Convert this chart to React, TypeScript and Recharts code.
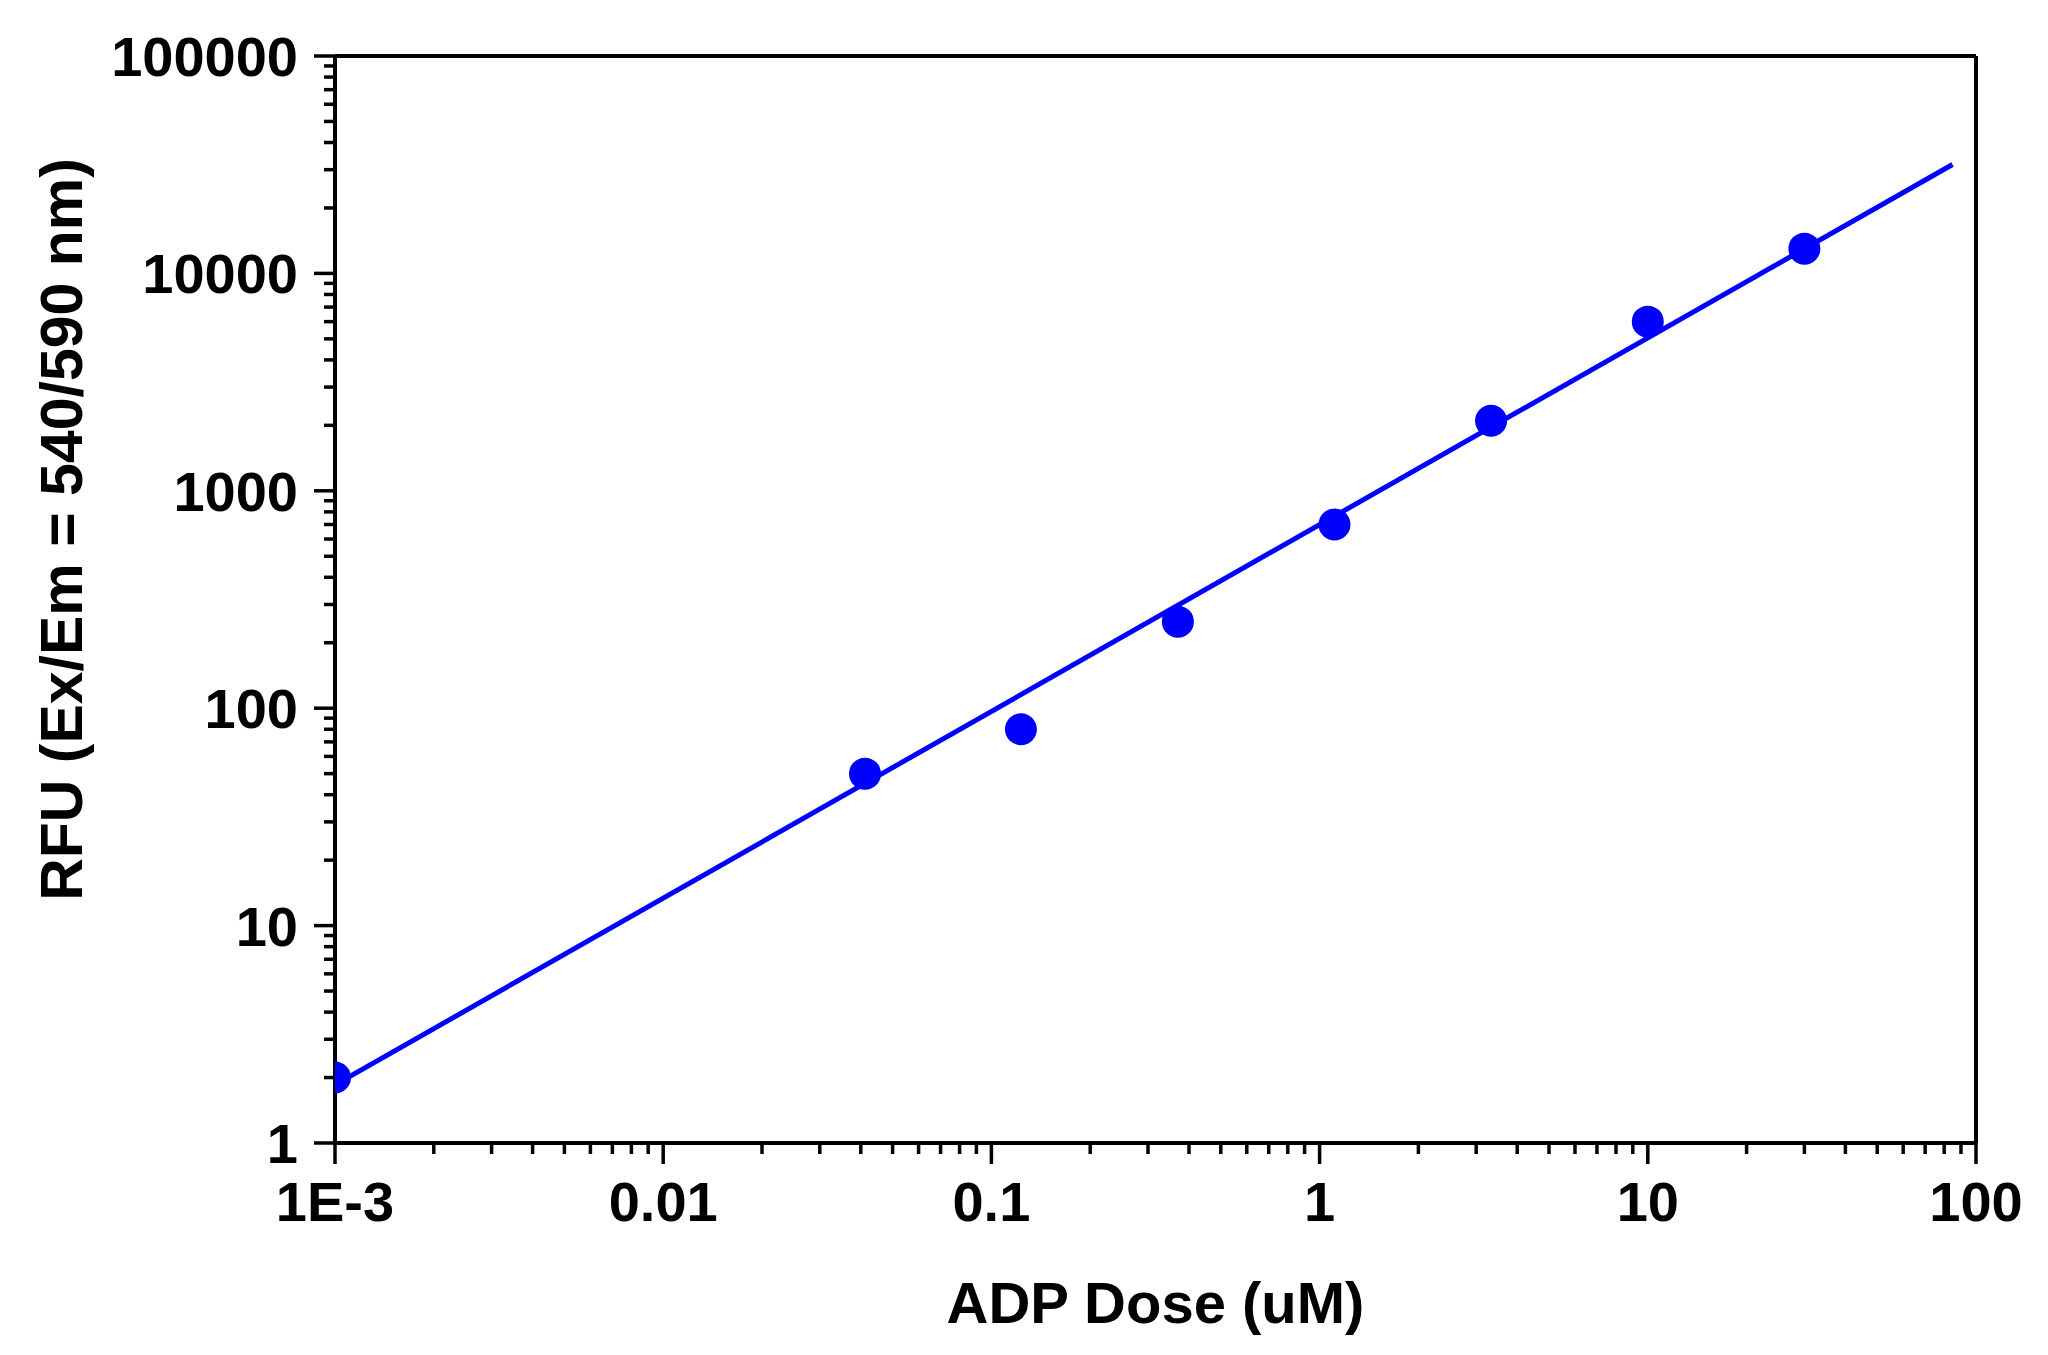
import React from 'react';
import { ScatterChart, Scatter, XAxis, YAxis, ReferenceLine } from 'recharts';

// Measured data (ADP dose in uM vs RFU)
const doses = [0.001, 0.0412, 0.123, 0.37, 1.11, 3.33, 10, 30];
const rfu = [2, 50, 80, 250, 700, 2100, 6000, 13000];

// Fitted power-law line endpoints (straight in log-log)
const fitDoses = [0.001, 84.8];
const fitRfu = [1.85, 31700];

// Axis ticks
const xMajorTicks = [0.001, 0.01, 0.1, 1, 10, 100];
const xTickLabels = ['1E-3', '0.01', '0.1', '1', '10', '100'];
const yMajorTicks = [1, 10, 100, 1000, 10000, 100000];
const yTickLabels = ['1', '10', '100', '1000', '10000', '100000'];
const minorMultipliers = [2, 3, 4, 5, 6, 7, 8, 9];

const buildTicks = (majors: number[]) => {
  const out: number[] = [...majors];
  majors.slice(0, -1).forEach((m) => minorMultipliers.forEach((k) => out.push(m * k)));
  return out.sort((a, b) => a - b);
};
const xAllTicks = buildTicks(xMajorTicks);
const yAllTicks = buildTicks(yMajorTicks);

const pointData = doses.map((d, i) => ({ x: d, y: rfu[i] }));
const fitData = fitDoses.map((d, i) => ({ x: d, y: fitRfu[i] }));

const FONT = '"Liberation Sans", Arial, Helvetica, sans-serif';
const BLUE = '#0000ff';
const TICK_FS = 56;
const TITLE_FS = 58;

const majorIndex = (majors: number[], v: number) =>
  majors.findIndex((m) => Math.abs(m - v) / m < 1e-9);

const XTick = (props: any) => {
  const { x, y, payload } = props;
  const i = majorIndex(xMajorTicks, payload.value);
  const major = i >= 0;
  return (
    <g>
      <line x1={x} x2={x} y1={y} y2={y + (major ? 21 : 11)} stroke="#000" strokeWidth={3.5} />
      {major && (
        <text x={x} y={y + 78} textAnchor="middle" fontFamily={FONT} fontWeight="bold" fontSize={TICK_FS} fill="#000">
          {xTickLabels[i]}
        </text>
      )}
    </g>
  );
};

const YTick = (props: any) => {
  const { x, y, payload } = props;
  const i = majorIndex(yMajorTicks, payload.value);
  const major = i >= 0;
  return (
    <g>
      <line x1={x} x2={x - (major ? 21 : 11)} y1={y} y2={y} stroke="#000" strokeWidth={3.5} />
      {major && (
        <text x={x - 37} y={y + 20} textAnchor="end" fontFamily={FONT} fontWeight="bold" fontSize={TICK_FS} fill="#000">
          {yTickLabels[i]}
        </text>
      )}
    </g>
  );
};

const XTitle = (props: any) => {
  const vb = props.viewBox || {};
  return (
    <text x={vb.x + vb.width / 2} y={vb.y + 180} textAnchor="middle" fontFamily={FONT} fontWeight="bold" fontSize={TITLE_FS} fill="#000">
      ADP Dose (uM)
    </text>
  );
};

const YTitle = (props: any) => {
  const vb = props.viewBox || {};
  const cx = vb.x - 53;
  const cy = vb.y + vb.height / 2 - 70;
  return (
    <text x={cx} y={cy} transform={`rotate(-90, ${cx}, ${cy})`} textAnchor="middle" fontFamily={FONT} fontWeight="bold" fontSize={TITLE_FS + 1} fill="#000">
      RFU (Ex/Em = 540/590 nm)
    </text>
  );
};

const Dot = (props: any) => <circle cx={props.cx} cy={props.cy} r={16} fill={BLUE} />;
const NoShape = () => <g />;

export default function App() {
  return (
    <div style={{ width: 2032, height: 1339, background: '#fff', fontFamily: FONT }}>
      <ScatterChart width={2032} height={1339} margin={{ top: 48, right: 64, left: 127, bottom: 4 }}>
        <XAxis
          dataKey="x"
          type="number"
          scale="log"
          domain={[0.001, 100]}
          allowDataOverflow
          ticks={xAllTicks}
          interval={0}
          tickSize={0}
          tickMargin={0}
          tickLine={false}
          tick={<XTick />}
          axisLine={{ stroke: '#000', strokeWidth: 4 }}
          height={200}
          label={{ content: (p: any) => <XTitle {...p} /> }}
        />
        <YAxis
          dataKey="y"
          type="number"
          scale="log"
          domain={[1, 100000]}
          allowDataOverflow
          ticks={yAllTicks}
          interval={0}
          tickSize={0}
          tickMargin={0}
          tickLine={false}
          tick={<YTick />}
          axisLine={{ stroke: '#000', strokeWidth: 4 }}
          width={200}
          label={{ content: (p: any) => <YTitle {...p} /> }}
        />
        <ReferenceLine y={100000} stroke="#000" strokeWidth={4} />
        <ReferenceLine x={100} stroke="#000" strokeWidth={4} />
        <Scatter
          data={fitData}
          line={{ stroke: BLUE, strokeWidth: 5 }}
          shape={<NoShape />}
          isAnimationActive={false}
        />
        <Scatter data={pointData} fill={BLUE} shape={<Dot />} isAnimationActive={false} />
      </ScatterChart>
    </div>
  );
}
